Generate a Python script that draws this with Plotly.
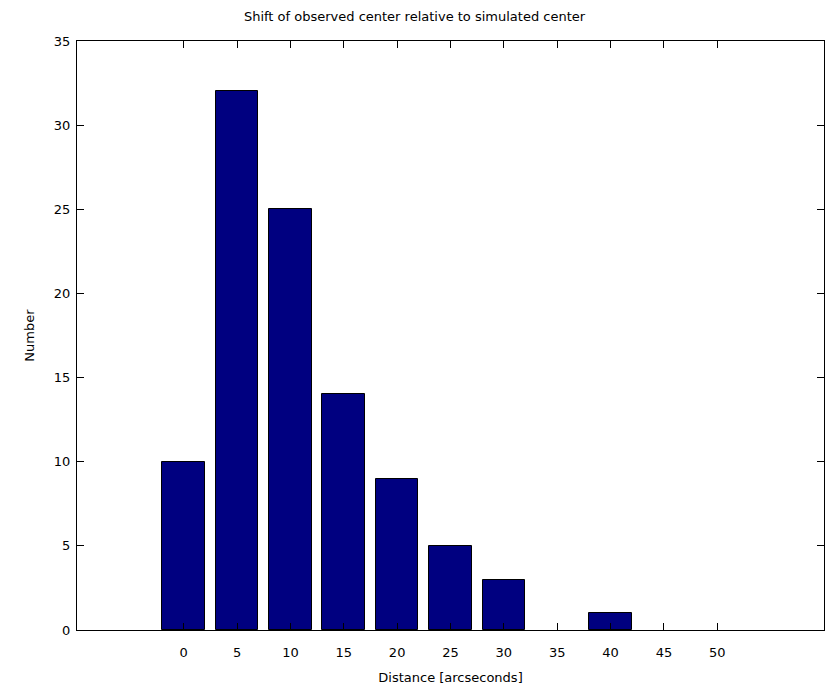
import plotly.graph_objects as go

distance = [0, 5, 10, 15, 20, 25, 30, 35, 40, 45, 50]
counts = [10, 32, 25, 14, 9, 5, 3, 0, 1, 0, 0]
x_ticks = [0, 5, 10, 15, 20, 25, 30, 35, 40, 45, 50]
y_ticks = [0, 5, 10, 15, 20, 25, 30, 35]

# zero-height bars are hidden by the axis in the reference
line_widths = [1 if c > 0 else 0 for c in counts]

fig = go.Figure(go.Bar(
    x=distance, y=counts, width=4,
    marker=dict(color="#000080", line=dict(color="black", width=line_widths)),
))

font = dict(family="DejaVu Sans, Arial, sans-serif", size=13, color="black")
axis_common = dict(
    showgrid=False, zeroline=False, showline=True, linecolor="black", linewidth=1,
    mirror="ticks", ticks="inside", ticklen=7, tickcolor="black", tickwidth=1,
    tickfont=font,
)
fig.update_layout(
    width=829, height=690,
    margin=dict(l=77, r=5, t=41, b=60),
    plot_bgcolor="white", paper_bgcolor="white",
    title=dict(text="Shift of observed center relative to simulated center",
               x=0.5, xanchor="center", y=1 - 16 / 690, yanchor="middle",
               font=font),
    xaxis=dict(range=[-10, 60], tickvals=x_ticks, ticklabelstandoff=10,
               title=dict(text="Distance [arcseconds]", font=font, standoff=14),
               **axis_common),
    yaxis=dict(range=[0, 35], tickvals=y_ticks, ticklabelstandoff=3,
               title=dict(text="Number", font=font, standoff=16),
               **axis_common),
    showlegend=False,
    bargap=0,
)

fig.write_html("out.html")
